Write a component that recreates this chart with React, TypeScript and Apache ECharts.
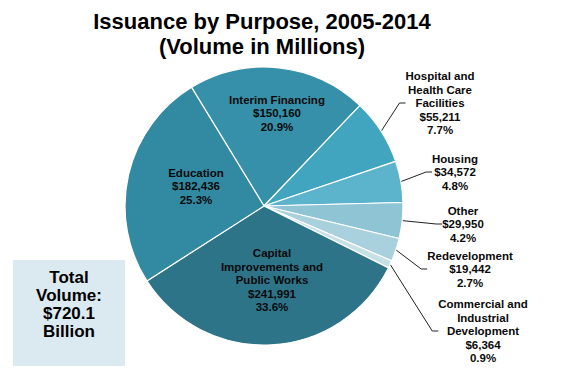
import React, { useEffect, useRef } from "react";
import * as echarts from "echarts";

const categories = [
  "Interim Financing",
  "Hospital and\nHealth Care\nFacilities",
  "Housing",
  "Other",
  "Redevelopment",
  "Commercial and\nIndustrial\nDevelopment",
  "Capital\nImprovements and\nPublic Works",
  "Education",
];
const values = [150160, 55211, 34572, 29950, 19442, 6364, 241991, 182436];
const colors = ["#3690a9", "#42a5c0", "#5cb4cc", "#8fc4d4", "#a8d1dd", "#c6e0e8", "#2d7489", "#3289a2"];
const insideLabel = [true, false, false, false, false, false, true, true];
const labelPos: [number, number][] = [
  [277, 113],
  [440, 103],
  [455, 172],
  [463, 224],
  [470, 269],
  [483, 331],
  [272, 280],
  [196, 186],
];
const titleLines = ["Issuance by Purpose, 2005-2014", "(Volume in Millions)"];
const totalLines = ["Total", "Volume:", "$720.1", "Billion"];

const FONT = "'Liberation Sans', Arial, Helvetica, sans-serif";

export default function App() {
  const ref = useRef<HTMLDivElement>(null);
  useEffect(() => {
    if (!ref.current) return;
    const chart = echarts.init(ref.current, null, { renderer: "svg" });
    const total = values.reduce((a, b) => a + b, 0);
    const data = categories.map((name, i) => ({
      name,
      value: values[i],
      itemStyle: { color: colors[i] },
      label: { position: insideLabel[i] ? "inside" : "outside" },
      labelLine: { show: !insideLabel[i] },
    }));
    chart.setOption({
      animation: false,
      backgroundColor: "#ffffff",
      graphic: [
        {
          type: "text",
          x: 262,
          y: 34,
          style: {
            text: titleLines.join("\n"),
            font: `bold 22px ${FONT}`,
            lineHeight: 25,
            fill: "#000",
            align: "center",
            verticalAlign: "middle",
          },
        },
        {
          type: "rect",
          shape: { x: 13, y: 260, width: 112, height: 106 },
          style: { fill: "#dbeaf1" },
        },
        {
          type: "text",
          x: 69,
          y: 304,
          style: {
            text: totalLines.join("\n"),
            font: `bold 17px ${FONT}`,
            lineHeight: 18,
            fill: "#000",
            align: "center",
            verticalAlign: "middle",
          },
        },
      ],
      series: [
        {
          type: "pie",
          center: [264, 206],
          radius: 139,
          startAngle: 121.4,
          clockwise: true,
          itemStyle: { borderColor: "#ffffff", borderWidth: 1.2 },
          label: {
            show: true,
            fontFamily: FONT,
            fontSize: 11.5,
            fontWeight: "bold",
            lineHeight: 13.5,
            color: "#0a0a0a",
            align: "center",
            formatter: (p: any) =>
              `${p.name}\n$${Number(p.value).toLocaleString("en-US")}\n${((p.value / total) * 100).toFixed(1)}%`,
          },
          labelLine: {
            show: true,
            length: 10,
            length2: 6,
            lineStyle: { color: "#222", width: 1 },
          },
          labelLayout: (params: any) => {
            const pos = labelPos[params.dataIndex];
            return { x: pos[0], y: pos[1], align: "center", verticalAlign: "middle" };
          },
          emphasis: { disabled: true },
          data,
        },
      ],
    });
    return () => chart.dispose();
  }, []);
  return (
    <div
      ref={ref}
      style={{ position: "fixed", left: 0, top: 0, width: 568, height: 368, background: "#fff" }}
    />
  );
}
